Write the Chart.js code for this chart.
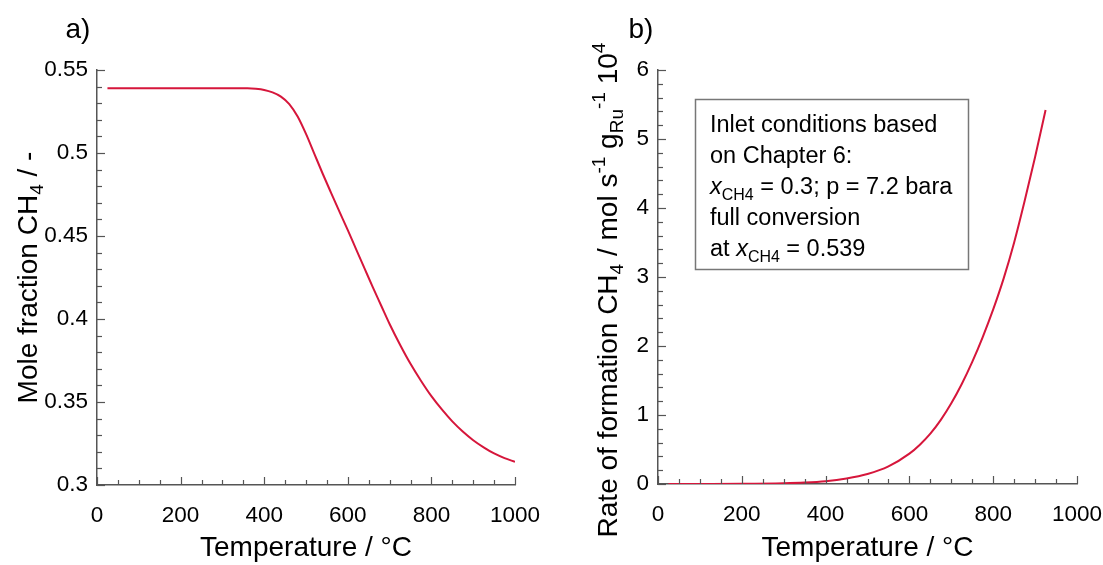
<!DOCTYPE html>
<html>
<head>
<meta charset="utf-8">
<script src="https://cdn.jsdelivr.net/npm/chart.js@4/dist/chart.umd.min.js"></script>
<style>
  html, body { margin: 0; padding: 0; background: #fff; }
  #wrap { position: relative; width: 1103px; height: 565px; overflow: hidden; }
  #c1 { position: absolute; left: 0; top: 0; }
  #c2 { position: absolute; left: 551px; top: 0; }
</style>
</head>
<body>
<div id="wrap">
  <canvas id="c1" width="551" height="565"></canvas>
  <canvas id="c2" width="552" height="565"></canvas>
</div>
<script>
// ---------- data ----------
const tempA = [25, 100, 200, 300, 360, 380, 400, 420, 440, 460, 480, 500, 520, 540, 560, 580, 600, 620, 640, 660, 680, 700, 725, 750, 775, 800, 825, 850, 875, 900, 925, 950, 975, 1000];
const moleFractionCH4 = [0.539, 0.539, 0.539, 0.539, 0.539, 0.5387, 0.5380, 0.5365, 0.534, 0.5295, 0.522, 0.5115, 0.4995, 0.4875, 0.476, 0.4647, 0.4535, 0.442, 0.4305, 0.419, 0.408, 0.397, 0.3845, 0.373, 0.3628, 0.3535, 0.3455, 0.3383, 0.3322, 0.327, 0.3227, 0.319, 0.3162, 0.314];

const tempB = [25, 100, 200, 300, 350, 400, 450, 500, 550, 600, 625, 650, 675, 700, 725, 750, 775, 800, 825, 850, 875, 900, 925];
const rateCH4 = [0, 0.0003, 0.002, 0.01, 0.02, 0.04, 0.08, 0.145, 0.255, 0.44, 0.57, 0.73, 0.93, 1.17, 1.45, 1.77, 2.13, 2.53, 2.98, 3.5, 4.1, 4.74, 5.42];

const xTickValues = [0, 200, 400, 600, 800, 1000];
const yTickValuesA = [0.3, 0.35, 0.4, 0.45, 0.5, 0.55];
const yTickValuesB = [0, 1, 2, 3, 4, 5, 6];

const xTitle = 'Temperature / °C';
const yTitleA = [{t: 'Mole fraction CH'}, {t: '4', sub: true}, {t: ' / -'}];
const yTitleB = [{t: 'Rate of formation CH'}, {t: '4', sub: true}, {t: ' / mol s'}, {t: '-1', sup: true}, {t: ' g'}, {t: 'Ru', sub: true}, {t: '-1', sup: true}, {t: ' 10'}, {t: '4', sup: true}];
const noteLines = [
  [{t: 'Inlet conditions based'}],
  [{t: 'on Chapter 6:'}],
  [{t: 'x', it: true}, {t: 'CH4', sub: true}, {t: ' = 0.3; p = 7.2 bara'}],
  [{t: 'full conversion'}],
  [{t: 'at '}, {t: 'x', it: true}, {t: 'CH4', sub: true}, {t: ' = 0.539'}]
];

// ---------- helpers ----------
const FONT = '"Liberation Sans", Arial, Helvetica, sans-serif';
const AXIS_COLOR = '#555555';
const LINE_COLOR = '#d6163b';

function segFont(s, size) {
  const sz = (s.sub || s.sup) ? size * 0.68 : size;
  return (s.it ? 'italic ' : '') + sz + 'px ' + FONT;
}
function richWidth(ctx, segs, size) {
  let w = 0;
  segs.forEach(s => { ctx.font = segFont(s, size); w += ctx.measureText(s.t).width; });
  return w;
}
// draws rich text; (x, y) anchor, y is the visual middle of capitals
function drawRich(ctx, segs, size, x, y, rot, align) {
  ctx.save();
  ctx.translate(x, y);
  if (rot) ctx.rotate(rot);
  const w = richWidth(ctx, segs, size);
  let cx = align === 'left' ? 0 : -w / 2;
  const base = size * 0.36;
  ctx.fillStyle = '#000';
  ctx.textBaseline = 'alphabetic';
  ctx.textAlign = 'left';
  segs.forEach(s => {
    ctx.font = segFont(s, size);
    let dy = 0;
    if (s.sub) dy = size * 0.22;
    if (s.sup) dy = -size * 0.42;
    ctx.fillText(s.t, cx, base + dy);
    cx += ctx.measureText(s.t).width;
  });
  ctx.restore();
}

// inward major + minor ticks, read through the chart's own scales
const inwardTicks = {
  id: 'inwardTicks',
  afterDraw(chart, args, opts) {
    const ctx = chart.ctx;
    const xs = chart.scales.x, ys = chart.scales.y;
    ctx.save();
    ctx.strokeStyle = AXIS_COLOR;
    ctx.lineWidth = 1.2;
    const drawFor = (scale, majors, nMinor, horizontal) => {
      const vals = [];
      for (let i = 0; i < majors.length; i++) {
        vals.push({v: majors[i], major: true});
        if (i < majors.length - 1) {
          const step = (majors[i + 1] - majors[i]) / (nMinor + 1);
          for (let k = 1; k <= nMinor; k++) vals.push({v: majors[i] + step * k, major: false});
        }
      }
      vals.forEach(o => {
        const p = Math.round(scale.getPixelForValue(o.v)) + 0.5;
        const len = o.major ? 8 : 5;
        ctx.beginPath();
        if (horizontal) {
          const yb = xs.top;
          ctx.moveTo(p, yb); ctx.lineTo(p, yb - len);
        } else {
          const xl = ys.right;
          ctx.moveTo(xl, p); ctx.lineTo(xl + len, p);
        }
        ctx.stroke();
      });
    };
    drawFor(xs, opts.xMajors, 3, true);
    drawFor(ys, opts.yMajors, 4, false);
    ctx.restore();
  }
};

// titles, panel letters and note box
const decorations = {
  id: 'decorations',
  afterDraw(chart, args, opts) {
    const ctx = chart.ctx;
    const ca = chart.chartArea;
    drawRich(ctx, opts.yTitle, 28, opts.yTitleX, opts.yTitleY != null ? opts.yTitleY : (ca.top + ca.bottom) / 2, -Math.PI / 2, 'center');
    drawRich(ctx, [{t: opts.letter}], 28, opts.letterX, 28, 0, 'center');
    if (opts.note) {
      const b = opts.noteBox;
      ctx.save();
      ctx.strokeStyle = '#777';
      ctx.lineWidth = 1.5;
      ctx.strokeRect(b.l + 0.5, b.t + 0.5, b.r - b.l, b.b - b.t);
      ctx.restore();
      opts.note.forEach((line, i) => {
        drawRich(ctx, line, 23.5, b.l + 15, b.t + 25 + i * 31, 0, 'left');
      });
    }
  }
};

function tickFmt(v) { return String(Number(v.toFixed(2))); }

function makeOptions(cfg) {
  return {
    responsive: false,
    animation: false,
    events: [],
    layout: { padding: cfg.padding },
    plugins: {
      legend: { display: false },
      tooltip: { enabled: false },
      inwardTicks: { xMajors: xTickValues, yMajors: cfg.yTicks },
      decorations: cfg.deco
    },
    scales: {
      x: {
        type: 'linear',
        min: 0, max: 1000,
        afterBuildTicks: s => { s.ticks = xTickValues.map(v => ({value: v})); },
        afterFit: s => { s.height = cfg.xHeight; s.paddingLeft = 0; s.paddingRight = 0; },
        grid: { display: true, drawOnChartArea: false, drawTicks: false },
        border: { display: true, color: AXIS_COLOR, width: 1.5 },
        ticks: { color: '#000', font: { family: FONT, size: 22.5 }, padding: 17, maxRotation: 0, callback: v => tickFmt(v) },
        title: { display: true, text: xTitle, color: '#000', font: { family: FONT, size: 28 }, padding: { top: 0, bottom: 0 } }
      },
      y: {
        type: 'linear',
        min: cfg.yMin, max: cfg.yMax,
        afterBuildTicks: s => { s.ticks = cfg.yTicks.map(v => ({value: v})); },
        afterFit: s => { s.width = cfg.yWidth; s.paddingTop = 0; s.paddingBottom = 0; },
        grid: { display: true, drawOnChartArea: false, drawTicks: false },
        border: { display: true, color: AXIS_COLOR, width: 1.5 },
        ticks: { color: '#000', font: { family: FONT, size: 22.5 }, padding: 9, callback: v => tickFmt(v) }
      }
    }
  };
}

new Chart(document.getElementById('c1'), {
  type: 'line',
  data: {
    datasets: [{
      data: tempA.map((t, i) => ({x: t, y: moleFractionCH4[i]})),
      borderColor: LINE_COLOR, borderWidth: 2, pointRadius: 0,
      cubicInterpolationMode: 'monotone', fill: false
    }]
  },
  options: makeOptions({
    padding: { left: 0, right: 36, top: 70, bottom: 0 },
    xHeight: 80, yWidth: 97,
    yMin: 0.3, yMax: 0.55, yTicks: yTickValuesA,
    deco: { yTitle: yTitleA, yTitleX: 27, letter: 'a)', letterX: 78 }
  }),
  plugins: [inwardTicks, decorations]
});

new Chart(document.getElementById('c2'), {
  type: 'line',
  data: {
    datasets: [{
      data: tempB.map((t, i) => ({x: t, y: rateCH4[i]})),
      borderColor: LINE_COLOR, borderWidth: 2, pointRadius: 0,
      cubicInterpolationMode: 'monotone', fill: false
    }]
  },
  options: makeOptions({
    padding: { left: 0, right: 26, top: 70, bottom: 0 },
    xHeight: 81, yWidth: 107,
    yMin: 0, yMax: 6, yTicks: yTickValuesB,
    deco: { yTitle: yTitleB, yTitleX: 56, yTitleY: 290, letter: 'b)', letterX: 90,
            note: noteLines, noteBox: { l: 144, t: 99, r: 417, b: 269 } }
  }),
  plugins: [inwardTicks, decorations]
});
</script>
</body>
</html>
